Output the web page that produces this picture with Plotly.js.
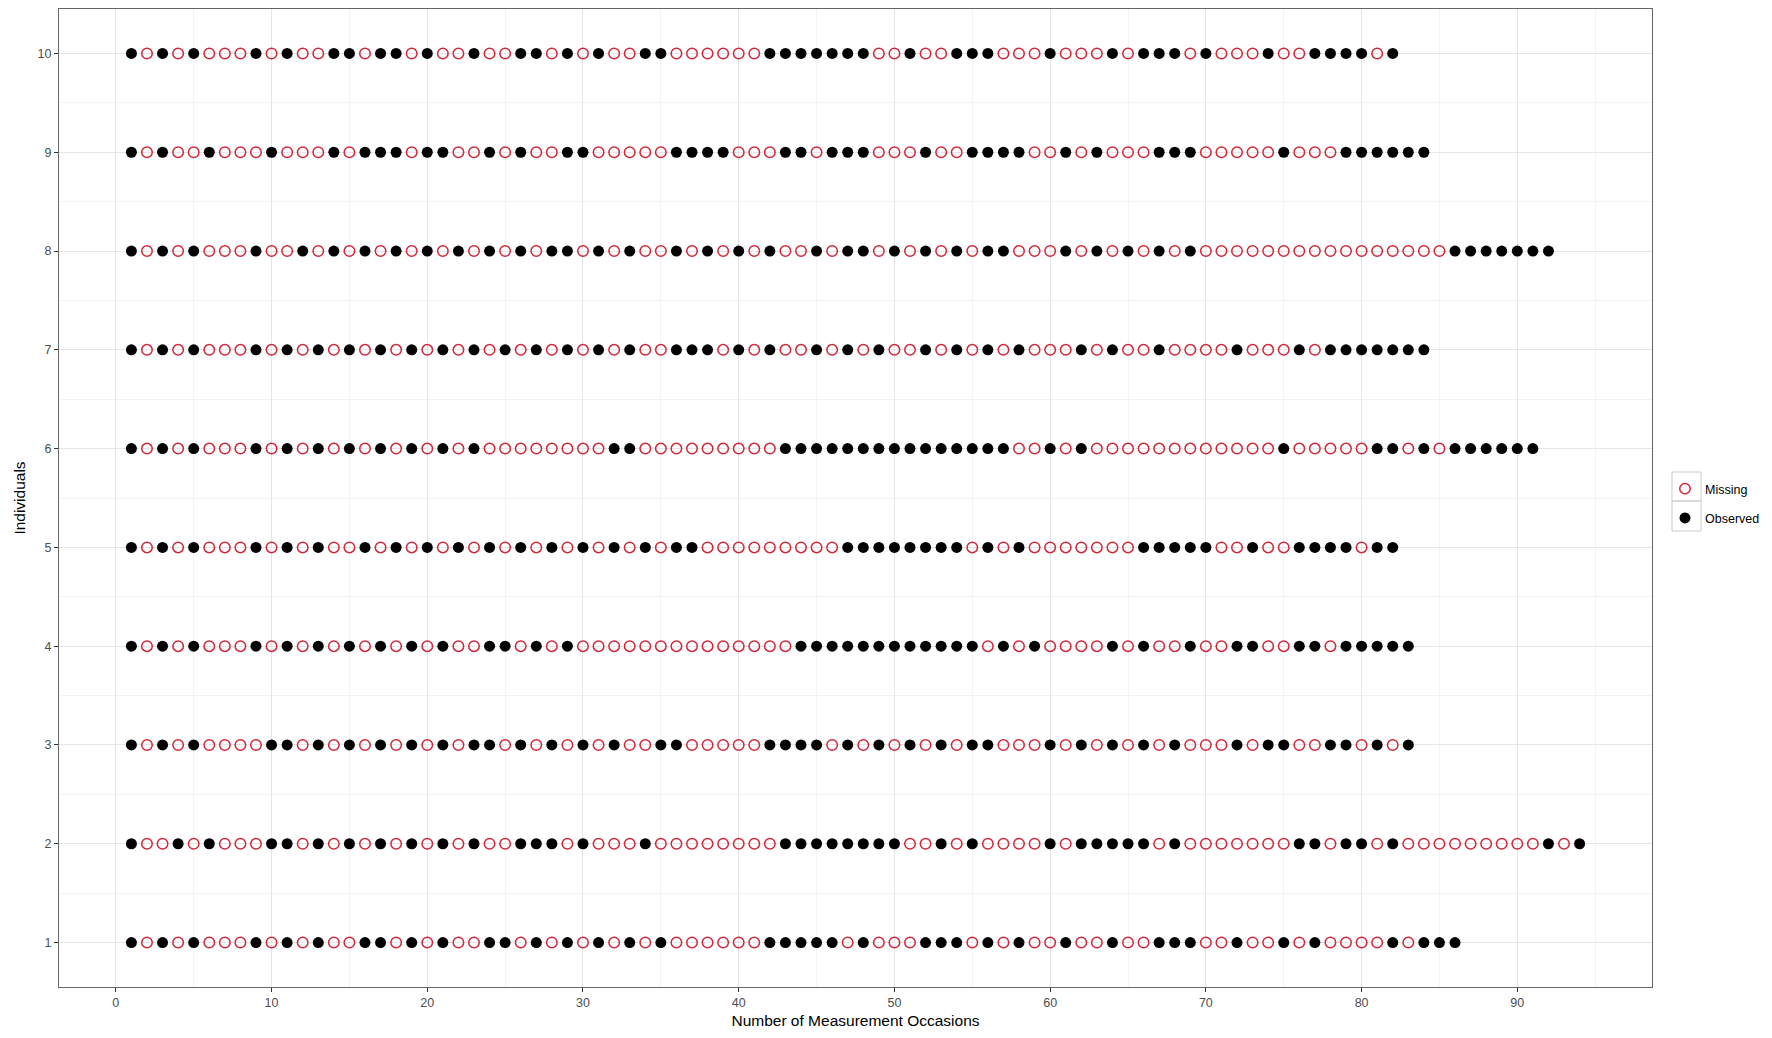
<!DOCTYPE html>
<html>
<head>
<meta charset="utf-8">
<script src="https://cdn.plot.ly/plotly-3.0.1.min.js"></script>
<style>
  html, body { margin: 0; padding: 0; background: #fff; }
  #chart { width: 1772px; height: 1038px; }
</style>
</head>
<body>
<div id="chart"></div>
<script>
// 1 = observed, 0 = missing, one entry per measurement occasion (1, 2, 3, ...)
const ind1 = [1,0,1,0,1,0,0,0,1,0, 1,0,1,0,0,1,1,0,1,0, 1,0,0,1,1,0,1,0,1,0, 1,0,1,0,1,0,0,0,0,0,
              0,1,1,1,1,1,0,1,0,0, 0,1,1,1,0,1,0,1,0,0, 1,0,0,1,0,0,1,1,1,0, 0,1,0,0,1,0,1,0,0,0,
              0,1,0,1,1,1];
const ind2 = [1,0,0,1,0,1,0,0,0,1, 1,0,1,0,1,0,1,0,1,0, 1,0,1,0,0,1,1,1,0,1, 0,0,0,1,0,0,0,0,0,0,
              0,0,1,1,1,1,1,1,1,1, 0,0,1,0,1,0,0,0,0,1, 0,1,1,1,1,1,0,1,0,0, 0,0,0,0,0,1,1,0,1,1,
              0,1,0,0,0,0,0,0,0,0, 0,1,0,1];
const ind3 = [1,0,1,0,1,0,0,0,0,1, 1,0,1,0,1,0,1,0,1,0, 1,0,1,1,0,1,0,1,0,1, 0,1,0,0,1,1,0,0,0,0,
              0,1,1,1,1,0,1,0,1,0, 1,0,1,0,1,1,0,0,0,1, 0,1,0,1,0,1,0,1,0,0, 0,1,0,1,1,0,0,1,1,0,
              1,0,1];
const ind4 = [1,0,1,0,1,0,0,0,1,0, 1,0,1,0,1,0,1,0,1,0, 1,0,0,1,1,0,1,0,1,0, 0,0,0,0,0,0,0,0,0,0,
              0,0,0,1,1,1,1,1,1,1, 1,1,1,1,1,0,1,0,1,0, 0,0,0,1,0,1,0,0,1,0, 0,1,1,0,0,1,1,0,1,1,
              1,1,1];
const ind5 = [1,0,1,0,1,0,0,0,1,0, 1,0,1,0,0,1,0,1,0,1, 0,1,0,1,0,1,0,1,0,1, 0,1,0,1,0,1,1,0,0,0,
              0,0,0,0,0,0,1,1,1,1, 1,1,1,1,0,1,0,1,0,0, 0,0,0,0,0,1,1,1,1,1, 0,0,1,0,0,1,1,1,1,0,
              1,1];
const ind6 = [1,0,1,0,1,0,0,0,1,0, 1,0,1,0,1,0,1,0,1,0, 1,0,1,0,0,0,0,0,0,0, 0,1,1,0,0,0,0,0,0,0,
              0,0,1,1,1,1,1,1,1,1, 1,1,1,1,1,1,1,0,0,1, 0,1,0,0,0,0,0,0,0,0, 0,0,0,0,1,0,0,0,0,0,
              1,1,0,1,0,1,1,1,1,1, 1];
const ind7 = [1,0,1,0,1,0,0,0,1,0, 1,0,1,0,1,0,1,0,1,0, 1,0,1,0,1,0,1,0,1,0, 1,0,1,0,0,1,1,1,0,1,
              0,1,0,0,1,0,1,0,1,0, 0,1,0,1,0,1,0,1,0,0, 0,1,0,1,0,0,1,0,0,0, 0,1,0,0,0,1,0,1,1,1,
              1,1,1,1];
const ind8 = [1,0,1,0,1,0,0,0,1,0, 0,1,0,1,0,1,0,1,0,1, 0,1,0,1,0,1,0,1,1,0, 1,0,1,0,0,1,0,1,0,1,
              0,1,0,0,1,0,1,1,0,1, 0,1,0,1,0,1,1,0,0,0, 1,0,1,0,1,0,1,0,1,0, 0,0,0,0,0,0,0,0,0,0,
              0,0,0,0,0,1,1,1,1,1, 1,1];
const ind9 = [1,0,1,0,0,1,0,0,0,1, 0,0,0,1,0,1,1,1,0,1, 1,0,0,1,0,1,0,0,1,1, 0,0,0,0,0,1,1,1,1,0,
              0,0,1,1,0,1,1,1,0,0, 0,1,0,0,1,1,1,1,0,0, 1,0,1,0,0,0,1,1,1,0, 0,0,0,0,1,0,0,0,1,1,
              1,1,1,1];
const ind10 = [1,0,1,0,1,0,0,0,1,0, 1,0,0,1,1,0,1,1,0,1, 0,0,1,0,0,1,1,0,1,0, 1,0,0,1,1,0,0,0,0,0,
               0,1,1,1,1,1,1,1,0,0, 1,0,0,1,1,1,0,0,0,1, 0,0,0,1,0,1,1,1,0,1, 0,0,0,1,0,0,1,1,1,1,
               0,1];

const individuals = [1, 2, 3, 4, 5, 6, 7, 8, 9, 10];
const patterns = [ind1, ind2, ind3, ind4, ind5, ind6, ind7, ind8, ind9, ind10];
const xTicks = [0, 10, 20, 30, 40, 50, 60, 70, 80, 90];

// split into missing / observed point sets
const missX = [], missY = [], obsX = [], obsY = [];
patterns.forEach((pat, i) => {
    pat.forEach((v, j) => {
        if (v === 1) { obsX.push(j + 1); obsY.push(individuals[i]); }
        else { missX.push(j + 1); missY.push(individuals[i]); }
    });
});

const FONT = '"Liberation Sans", Arial, sans-serif';

const missingTrace = {
    x: missX, y: missY,
    type: 'scatter', mode: 'markers',
    name: 'Missing', legendgroup: 'a',
    marker: { symbol: 'circle-open', size: 10.5, color: '#d0283a', line: { width: 1.5, color: '#d0283a' } }
};

const observedTrace = {
    x: obsX, y: obsY,
    type: 'scatter', mode: 'markers',
    name: 'Observed', legendgroup: 'b',
    marker: { symbol: 'circle', size: 11, color: '#000000' }
};

// plot area in pixels: x 59..1652, y 9..987
const W = 1772, H = 1038;
const L = 59, R = 1652, T = 9, B = 987;
const px = v => (v - L) / (R - L);
const py = v => (B - v) / (B - T);

const layout = {
    width: W, height: H,
    margin: { l: L, r: W - R, t: T, b: H - B, autoexpand: false },
    paper_bgcolor: '#ffffff',
    plot_bgcolor: '#ffffff',
    font: { family: FONT, size: 12.5, color: '#4d4d4d' },
    showlegend: true,
    legend: {
        xref: 'container', yref: 'container',
        x: 1665 / W, xanchor: 'left',
        y: 1 - 474 / H, yanchor: 'top',
        bgcolor: 'rgba(0,0,0,0)',
        tracegroupgap: 10,
        font: { family: FONT, size: 12.5, color: '#000000' }
    },
    xaxis: {
        range: [-3.65, 98.65],
        tickvals: xTicks,
        ticks: 'outside', ticklen: 4, tickcolor: '#333333',
        showline: true, mirror: true, linecolor: '#666666', linewidth: 1,
        showgrid: true, gridcolor: '#e6e6e6', gridwidth: 1,
        minor: { dtick: 5, tick0: 0, showgrid: true, gridcolor: '#f3f3f3', gridwidth: 1 },
        zeroline: false,
        tickfont: { family: FONT, size: 12.5, color: '#4d4d4d' },
        title: { text: 'Number of Measurement Occasions', standoff: 6, font: { family: FONT, size: 15.5, color: '#000000' } }
    },
    yaxis: {
        range: [0.55, 10.45],
        tickvals: individuals,
        ticks: 'outside', ticklen: 4, tickcolor: '#333333',
        showline: true, mirror: true, linecolor: '#666666', linewidth: 1,
        showgrid: true, gridcolor: '#e6e6e6', gridwidth: 1,
        minor: { dtick: 0.5, tick0: 0.5, showgrid: true, gridcolor: '#f3f3f3', gridwidth: 1 },
        zeroline: false,
        tickfont: { family: FONT, size: 12.5, color: '#4d4d4d' },
        title: { text: 'Individuals', standoff: 8, font: { family: FONT, size: 15.5, color: '#000000' } }
    },
    shapes: [
        // legend key boxes
        { type: 'rect', xref: 'paper', yref: 'paper', x0: px(1672), x1: px(1701), y0: py(472), y1: py(501),
          line: { color: '#cccccc', width: 1 }, fillcolor: 'rgba(0,0,0,0)', layer: 'above' },
        { type: 'rect', xref: 'paper', yref: 'paper', x0: px(1672), x1: px(1701), y0: py(501), y1: py(531),
          line: { color: '#cccccc', width: 1 }, fillcolor: 'rgba(0,0,0,0)', layer: 'above' }
    ]
};

Plotly.newPlot('chart', [missingTrace, observedTrace], layout, { displayModeBar: false, staticPlot: true });
</script>
</body>
</html>
